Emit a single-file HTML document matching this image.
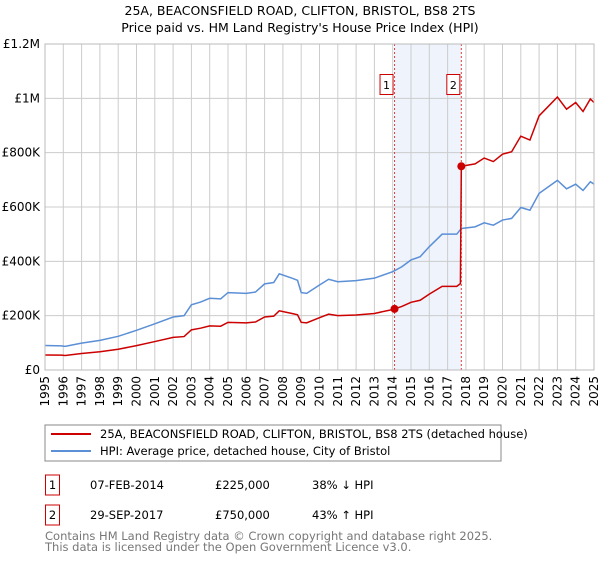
<!DOCTYPE html>
<html><head><meta charset="utf-8"><style>
body{margin:0;background:#fff;font-family:"Liberation Sans","DejaVu Sans",sans-serif;}
svg text{font-family:"DejaVu Sans","Liberation Sans",sans-serif;}
</style></head><body>
<svg id="c" width="600" height="560" viewBox="0 0 600 560">
<text x="300" y="15" text-anchor="middle" font-size="12.5">25A, BEACONSFIELD ROAD, CLIFTON, BRISTOL, BS8 2TS</text>
<text x="300" y="32" text-anchor="middle" font-size="12.5">Price paid vs. HM Land Registry's House Price Index (HPI)</text>
<g id="plot"></g>
<rect x="45" y="425" width="456" height="36" fill="#fff" stroke="#888"/>
<line x1="51" y1="434" x2="91" y2="434" stroke="#cc0000" stroke-width="2"/>
<text x="100" y="438" font-size="11.5">25A, BEACONSFIELD ROAD, CLIFTON, BRISTOL, BS8 2TS (detached house)</text>
<line x1="51" y1="451" x2="91" y2="451" stroke="#5b8fd6" stroke-width="2"/>
<text x="100" y="455" font-size="11.5">HPI: Average price, detached house, City of Bristol</text>
<rect x="45.5" y="475" width="14" height="20" fill="#fff" stroke="#cc0000"/>
<text x="52.5" y="489" font-size="11.5" text-anchor="middle">1</text>
<text x="90" y="489" font-size="11.5">07-FEB-2014</text>
<text x="215" y="489" font-size="11.5">£225,000</text>
<text x="312" y="489" font-size="11.5">38% ↓ HPI</text>
<rect x="45.5" y="505" width="14" height="20" fill="#fff" stroke="#cc0000"/>
<text x="52.5" y="519" font-size="11.5" text-anchor="middle">2</text>
<text x="90" y="519" font-size="11.5">29-SEP-2017</text>
<text x="215" y="519" font-size="11.5">£750,000</text>
<text x="312" y="519" font-size="11.5">43% ↑ HPI</text>
<text x="45" y="540" font-size="11.5" fill="#777">Contains HM Land Registry data © Crown copyright and database right 2025.</text>
<text x="45" y="551" font-size="11.5" fill="#777">This data is licensed under the Open Government Licence v3.0.</text>
</svg>
<script>
const hpiYears=[1995,1995.9,1996.1,1997,1998,1999,2000,2001,2002,2002.6,2003,2003.5,2004,2004.6,2005,2006,2006.5,2007,2007.5,2007.8,2008.5,2008.8,2009,2009.3,2010,2010.5,2011,2012,2013,2014,2014.5,2015,2015.5,2016,2016.7,2017.5,2017.75,2018.5,2019,2019.5,2020,2020.5,2021,2021.5,2022,2022.5,2023,2023.5,2024,2024.4,2024.8,2025];
const hpiValues=[90000,89000,87000,99000,109000,124000,146000,170000,195000,200000,240000,250000,264000,262000,285000,282000,287000,317000,322000,354000,338000,330000,285000,282000,313000,334000,325000,329000,338000,362000,380000,405000,417000,454000,500000,500000,521000,527000,542000,533000,552000,558000,598000,588000,650000,674000,698000,667000,684000,661000,693000,684000];
const saleYears=[2014.1,2017.75];
const salePrices=[225000,750000];
const yTicks=[0,200000,400000,600000,800000,1000000,1200000];
const yTickLabels=["£0","£200K","£400K","£600K","£800K","£1M","£1.2M"];
const xTicks=[1995,1996,1997,1998,1999,2000,2001,2002,2003,2004,2005,2006,2007,2008,2009,2010,2011,2012,2013,2014,2015,2016,2017,2018,2019,2020,2021,2022,2023,2024,2025];

const L=45,R=594,T=44,B=370;
const xs=y=>L+(y-1995)/30*(R-L);
const ys=v=>B-v/1200000*(B-T);
const ns="http://www.w3.org/2000/svg";
const g=document.getElementById('plot');
function mk(t,a){const e=document.createElementNS(ns,t);for(const k in a)e.setAttribute(k,a[k]);g.appendChild(e);return e;}
function hpiAt(y){for(let i=1;i<hpiYears.length;i++){if(y<=hpiYears[i]){const f=(y-hpiYears[i-1])/(hpiYears[i]-hpiYears[i-1]);return hpiValues[i-1]+f*(hpiValues[i]-hpiValues[i-1]);}}return hpiValues[hpiValues.length-1];}
let e=mk('rect',{x:xs(saleYears[0]),y:T,width:xs(saleYears[1])-xs(saleYears[0]),height:B-T,fill:'#eef3fc'});

yTicks.forEach((v,i)=>{let l=mk('line',{x1:L,x2:R,y1:ys(v),y2:ys(v),stroke:'#ccc'});

let t=mk('text',{x:L-5,y:ys(v)+4,'text-anchor':'end','font-size':'12'});t.textContent=yTickLabels[i];
});
xTicks.forEach(y=>{let l=mk('line',{x1:xs(y),x2:xs(y),y1:T,y2:B,stroke:'#ccc'});

let t=mk('text',{x:0,y:0,'text-anchor':'end','font-size':'12',transform:`translate(${xs(y)+4},${B+6}) rotate(-90)`});t.textContent=y;
});
saleYears.forEach((y,i)=>{let l=mk('line',{x1:xs(y),x2:xs(y),y1:T,y2:B,stroke:'#e04040','stroke-dasharray':'2,2'});

let r=mk('rect',{x:xs(y)-14.5,y:74.5,width:13,height:20,fill:'#fff',stroke:'#cc0000'});

let t=mk('text',{x:xs(y)-8,y:89,'text-anchor':'middle','font-size':'11'});t.textContent=i+1;
});
// HPI line
let p=mk('polyline',{points:hpiYears.map((y,i)=>xs(y)+','+ys(hpiValues[i])).join(' '),fill:'none',stroke:'#5b8fd6','stroke-width':'1.5'});

// property line indexed to HPI from each sale
const r0=salePrices[0]/hpiAt(saleYears[0]),r1=salePrices[1]/hpiAt(saleYears[1]);
let pts=[];
hpiYears.forEach((y,i)=>{if(y<saleYears[1])pts.push([y,hpiValues[i]*r0]);});
pts.push([saleYears[1]-0.05,hpiAt(saleYears[1]-0.05)*r0]);
pts.push([saleYears[1],salePrices[1]]);
hpiYears.forEach((y,i)=>{if(y>saleYears[1])pts.push([y,hpiValues[i]*r1]);});
let p2=mk('polyline',{points:pts.map(q=>xs(q[0])+','+ys(q[1])).join(' '),fill:'none',stroke:'#cc0000','stroke-width':'1.5'});

saleYears.forEach((y,i)=>{let c=mk('circle',{cx:xs(y),cy:ys(salePrices[i]),r:4,fill:'#cc0000'});
});
let ax=mk('rect',{x:L,y:T,width:R-L,height:B-T,fill:'none',stroke:'#bbb'});

</script>
</body></html>
